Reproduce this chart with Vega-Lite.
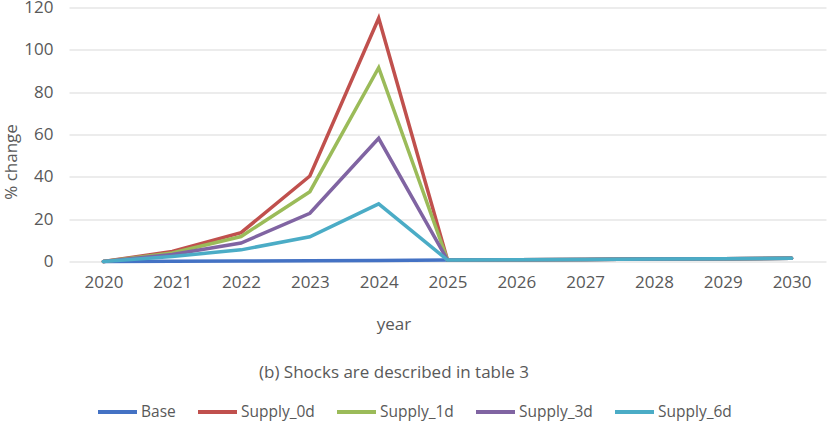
{
  "$schema": "https://vega.github.io/schema/vega-lite/v6.json",
  "autosize": "none",
  "width": 757,
  "height": 254,
  "padding": {"left": 69, "top": 7.5, "right": 3, "bottom": 160.5},
  "data": {
    "values": [
      {"year": "2020", "series": "Base", "value": 0},
      {"year": "2021", "series": "Base", "value": 0.1},
      {"year": "2022", "series": "Base", "value": 0.2},
      {"year": "2023", "series": "Base", "value": 0.3},
      {"year": "2024", "series": "Base", "value": 0.45},
      {"year": "2025", "series": "Base", "value": 0.7},
      {"year": "2026", "series": "Base", "value": 0.85},
      {"year": "2027", "series": "Base", "value": 1.0},
      {"year": "2028", "series": "Base", "value": 1.15},
      {"year": "2029", "series": "Base", "value": 1.3},
      {"year": "2030", "series": "Base", "value": 1.5},
      {"year": "2020", "series": "Supply_0d", "value": 0},
      {"year": "2021", "series": "Supply_0d", "value": 4.7},
      {"year": "2022", "series": "Supply_0d", "value": 13.6},
      {"year": "2023", "series": "Supply_0d", "value": 40.4},
      {"year": "2024", "series": "Supply_0d", "value": 114.9},
      {"year": "2025", "series": "Supply_0d", "value": 0.7},
      {"year": "2026", "series": "Supply_0d", "value": 0.85},
      {"year": "2027", "series": "Supply_0d", "value": 1.0},
      {"year": "2028", "series": "Supply_0d", "value": 1.15},
      {"year": "2029", "series": "Supply_0d", "value": 1.3},
      {"year": "2030", "series": "Supply_0d", "value": 1.5},
      {"year": "2020", "series": "Supply_1d", "value": 0},
      {"year": "2021", "series": "Supply_1d", "value": 4.0},
      {"year": "2022", "series": "Supply_1d", "value": 11.8},
      {"year": "2023", "series": "Supply_1d", "value": 33.0},
      {"year": "2024", "series": "Supply_1d", "value": 91.6},
      {"year": "2025", "series": "Supply_1d", "value": 0.7},
      {"year": "2026", "series": "Supply_1d", "value": 0.85},
      {"year": "2027", "series": "Supply_1d", "value": 1.0},
      {"year": "2028", "series": "Supply_1d", "value": 1.15},
      {"year": "2029", "series": "Supply_1d", "value": 1.3},
      {"year": "2030", "series": "Supply_1d", "value": 1.5},
      {"year": "2020", "series": "Supply_3d", "value": 0},
      {"year": "2021", "series": "Supply_3d", "value": 3.3},
      {"year": "2022", "series": "Supply_3d", "value": 8.7},
      {"year": "2023", "series": "Supply_3d", "value": 22.8},
      {"year": "2024", "series": "Supply_3d", "value": 58.2},
      {"year": "2025", "series": "Supply_3d", "value": 0.7},
      {"year": "2026", "series": "Supply_3d", "value": 0.85},
      {"year": "2027", "series": "Supply_3d", "value": 1.0},
      {"year": "2028", "series": "Supply_3d", "value": 1.15},
      {"year": "2029", "series": "Supply_3d", "value": 1.3},
      {"year": "2030", "series": "Supply_3d", "value": 1.5},
      {"year": "2020", "series": "Supply_6d", "value": 0},
      {"year": "2021", "series": "Supply_6d", "value": 2.4},
      {"year": "2022", "series": "Supply_6d", "value": 5.5},
      {"year": "2023", "series": "Supply_6d", "value": 11.7},
      {"year": "2024", "series": "Supply_6d", "value": 27.2},
      {"year": "2025", "series": "Supply_6d", "value": 0.7},
      {"year": "2026", "series": "Supply_6d", "value": 0.85},
      {"year": "2027", "series": "Supply_6d", "value": 1.0},
      {"year": "2028", "series": "Supply_6d", "value": 1.15},
      {"year": "2029", "series": "Supply_6d", "value": 1.3},
      {"year": "2030", "series": "Supply_6d", "value": 1.5}
    ]
  },
  "mark": {"type": "line", "strokeWidth": 3.5, "strokeCap": "round", "strokeJoin": "miter"},
  "encoding": {
    "x": {
      "field": "year",
      "type": "ordinal",
      "scale": {"type": "point", "padding": 0.5},
      "axis": {
        "title": ["year", "(b) Shocks are described in table 3"],
        "titleLineHeight": 48.5,
        "titleX": 324.5,
        "titleY": 67.5,
        "titleAlign": "center",
        "titleBaseline": "alphabetic",
        "labelAngle": 0,
        "labelPadding": 13,
        "labelBaseline": "top",
        "ticks": false,
        "domain": false
      }
    },
    "y": {
      "field": "value",
      "type": "quantitative",
      "scale": {"domain": [0, 120], "nice": false},
      "axis": {
        "title": "% change",
        "values": [0, 20, 40, 60, 80, 100, 120],
        "titleX": -52.5,
        "titleY": 154,
        "titleAngle": -90,
        "titleAlign": "center",
        "titleBaseline": "alphabetic",
        "labelPadding": 16,
        "ticks": false,
        "domain": false,
        "grid": true,
        "gridColor": "#D9D9D9",
        "gridWidth": 1
      }
    },
    "color": {
      "field": "series",
      "type": "nominal",
      "scale": {
        "domain": ["Base", "Supply_0d", "Supply_1d", "Supply_3d", "Supply_6d"],
        "range": ["#4472C4", "#C0504D", "#9BBB59", "#8064A2", "#4BACC6"]
      },
      "legend": {
        "title": null,
        "orient": "none",
        "direction": "horizontal",
        "columns": 5,
        "legendX": 27,
        "legendY": 383,
        "symbolType": "stroke",
        "symbolSize": 1521,
        "symbolStrokeWidth": 4,
        "labelOffset": 2,
        "columnPadding": 14
      }
    }
  },
  "config": {
    "view": {"stroke": null},
    "font": "Open Sans",
    "axis": {
      "labelFont": "Open Sans",
      "labelFontSize": 17,
      "labelColor": "#595959",
      "titleFont": "Open Sans",
      "titleFontSize": 17,
      "titleFontWeight": "normal",
      "titleColor": "#595959"
    },
    "legend": {
      "labelFont": "Open Sans",
      "labelFontSize": 15.5,
      "labelColor": "#595959",
      "labelLimit": 300
    }
  }
}
